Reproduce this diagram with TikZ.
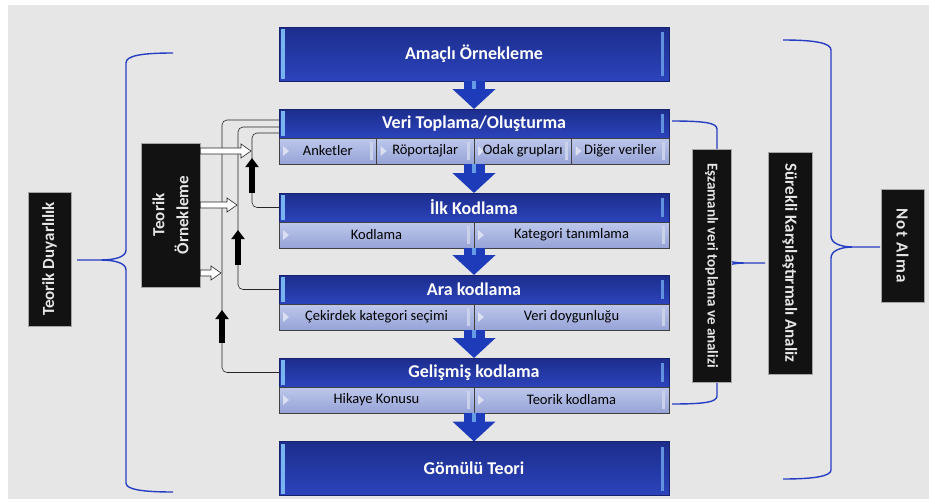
\documentclass[tikz,border=0pt]{standalone}
\usepackage{fontspec}
\setmainfont{Carlito}
\newfontfamily\spacedfont[LetterSpace=8]{Carlito}
\usetikzlibrary{arrows.meta, positioning, calc, shapes}

\definecolor{headblue}{RGB}{44,68,188}
\definecolor{headtop}{RGB}{28,45,140}
\definecolor{headdark}{RGB}{22,34,110}
\definecolor{edgeblue}{RGB}{120,180,240}
\definecolor{arrowblue}{RGB}{30,60,185}
\definecolor{cellblue}{RGB}{150,163,214}
\definecolor{celllight}{RGB}{190,200,236}
\definecolor{bracecol}{RGB}{38,62,196}
\definecolor{panelgray}{RGB}{230,230,230}
\definecolor{labelblack}{RGB}{18,18,18}

\newcommand\openarrow[2]{%
  \draw[draw=black!85, semithick, fill=white] let \p1=#1, \p2=#2 in
    (\x1,\y1+3pt) -- (\x2-10pt,\y1+3pt) -- (\x2-10pt,\y1+7pt) -- (\x2,\y1)
    -- (\x2-10pt,\y1-7pt) -- (\x2-10pt,\y1-3pt) -- (\x1,\y1-3pt) -- cycle;}

\begin{document}
\begin{tikzpicture}[
  x=1pt, y=-1pt,
  stagehead/.style={draw=headdark, top color=headtop, bottom color=headblue,
    text=white, minimum width=390pt, minimum height=29pt, inner sep=0pt, outer sep=0pt,
    font=\bfseries\fontsize{18}{20}\selectfont,
    path picture={
      \fill[edgeblue] ([xshift=2pt,yshift=-2pt]path picture bounding box.north west)
        rectangle ([xshift=6pt,yshift=2pt]path picture bounding box.south west);
      \fill[edgeblue!70!headblue] ([xshift=-8pt,yshift=-5pt]path picture bounding box.north east)
        rectangle ([xshift=-5pt,yshift=5pt]path picture bounding box.south east);}},
  stagebig/.style={stagehead, minimum height=54pt},
  cell/.style={draw=black!75, top color=celllight, bottom color=cellblue,
    minimum height=26pt, inner sep=0pt, outer sep=0pt, text=black,
    font=\fontsize{14.5}{16}\selectfont,
    path picture={
      \fill[white!65!cellblue] ([xshift=4pt,yshift=5pt]path picture bounding box.west)
        -- ([xshift=10pt]path picture bounding box.west)
        -- ([xshift=4pt,yshift=-5pt]path picture bounding box.west) -- cycle;
      \fill[white!50!cellblue] ([xshift=-7pt,yshift=-4pt]path picture bounding box.north east)
        rectangle ([xshift=-4pt,yshift=4pt]path picture bounding box.south east);}},
  darkbox/.style={draw=gray!70, fill=labelblack, text=gray!20, inner sep=0pt,
    align=center, font=\bfseries\fontsize{17}{20}\selectfont},
  flowarrow/.style={line width=21pt, draw=arrowblue, -{Triangle[width=42pt, length=20pt]},
    postaction={draw=edgeblue!80!arrowblue, line width=4pt, -, shorten >=20pt}},
  fbline/.style={draw=black!85, semithick, rounded corners=5pt},
  fbmark/.style={draw=black, line width=6pt, -{Triangle[width=13pt, length=9pt]}},
  brace/.style={draw=bracecol, line width=1.4pt}
]

  % --- Panel ---
  \useasboundingbox (0,0) rectangle (929,501);
  \fill[white] (0,0) rectangle (929,501);
  \fill[panelgray] (8,5) rectangle (929,499);

  % --- Braces ---
  \draw[brace] (173,53) .. controls (140,53) and (126,56) .. (126,63) -- (126,250)
    .. controls (126,257) and (115,260) .. (100,260) -- (77,260) -- (100,260)
    .. controls (115,260) and (126,263) .. (126,270) -- (126,483)
    .. controls (126,489) and (140,492) .. (173,492);
  \draw[brace] (672,121) .. controls (705,121) and (717,123) .. (717,129) -- (717,252)
    .. controls (717,259) and (730,263) .. (745,263) -- (765,263) -- (745,263)
    .. controls (730,263) and (717,267) .. (717,274) -- (717,396)
    .. controls (717,402) and (705,404) .. (672,404);
  \draw[brace] (783,40) .. controls (815,40) and (831,43) .. (831,50) -- (831,236)
    .. controls (831,243) and (840,247) .. (853,247) -- (880,247) -- (853,247)
    .. controls (840,247) and (831,251) .. (831,258) -- (831,470)
    .. controls (831,476) and (815,479) .. (783,479);

  % --- Stages ---
  \node[stagebig] (amac) at (474,54) {Amaçlı Örnekleme};

  \node[stagehead] (veri) at (474,123.5) {Veri Toplama/Oluşturma};
  \node[cell, minimum width=97.5pt, below right=0pt and 0pt of veri.south west] (v1) {Anketler};
  \node[cell, minimum width=97.5pt, right=0pt of v1] (v2) {Röportajlar};
  \node[cell, minimum width=97.5pt, right=0pt of v2] (v3) {Odak grupları};
  \node[cell, minimum width=97.5pt, right=0pt of v3] (v4) {Diğer veriler};

  \node[stagehead] (ilk) at (474,207.5) {İlk Kodlama};
  \node[cell, minimum width=195pt, below right=0pt and 0pt of ilk.south west] (i1) {Kodlama};
  \node[cell, minimum width=195pt, right=0pt of i1] (i2) {Kategori tanımlama};

  \node[stagehead] (ara) at (474,289.5) {Ara kodlama};
  \node[cell, minimum width=195pt, below right=0pt and 0pt of ara.south west] (a1) {Çekirdek kategori seçimi};
  \node[cell, minimum width=195pt, right=0pt of a1] (a2) {Veri doygunluğu};

  \node[stagehead] (gel) at (474,372.5) {Gelişmiş kodlama};
  \node[cell, minimum width=195pt, below right=0pt and 0pt of gel.south west] (g1) {Hikaye Konusu};
  \node[cell, minimum width=195pt, right=0pt of g1] (g2) {Teorik kodlama};

  \node[stagebig] (gomulu) at (474,468.5) {Gömülü Teori};

  % --- Side labels ---
  \node[darkbox, rotate=90, minimum width=134pt, minimum height=43pt] (tduy) at (49.5,259) {Teorik Duyarlılık};
  \node[darkbox, rotate=90, minimum width=144pt, minimum height=59pt] (torn) at (170.5,215) {Teorik\\[4pt]Örnekleme};
  \node[darkbox, rotate=-90, minimum width=233pt, minimum height=39pt, font=\bfseries\fontsize{15}{17}\selectfont] (esz) at (711.5,265.5) {Eşzamanlı veri toplama ve analizi};
  \node[darkbox, rotate=-90, minimum width=222pt, minimum height=44pt] (surekli) at (790,263) {Sürekli Karşılaştırmalı Analiz};
  \node[darkbox, rotate=-90, minimum width=113pt, minimum height=43pt] (notalma) at (902.5,245.5) {\spacedfont\bfseries Not Alma};

  % --- Flow ---
  \draw[flowarrow] (amac.south) -- (veri.north);
  \draw[flowarrow] (veri |- v1.south) -- (ilk.north);
  \draw[flowarrow] (ilk |- i1.south) -- (ara.north);
  \draw[flowarrow] (ara |- a1.south) -- (gel.north);
  \draw[flowarrow] (gel |- g1.south) -- (gomulu.north);

  % --- Feedback loops ---
  \draw[fbline] (ilk.west) -- ++(-27,0) |- ([yshift=-9.5pt]veri.west);
  \draw[fbline] (ara.west) -- ++(-41,0) |- ([yshift=-3.5pt]veri.west);
  \draw[fbline] (gel.west) -- ++(-57,0) |- ([yshift=3.5pt]veri.west);

  \coordinate (m3a) at (252,193); \coordinate (m3b) at (252,158);
  \coordinate (m2a) at (238,265); \coordinate (m2b) at (238,230);
  \coordinate (m1a) at (222,343); \coordinate (m1b) at (222,310);
  \draw[fbmark] (m3a) -- (m3b);
  \draw[fbmark] (m2a) -- (m2b);
  \draw[fbmark] (m1a) -- (m1b);

  % torn is turned by 90 degrees: its south side faces right
  \coordinate (h1) at (251,151);
  \coordinate (h2) at (237,205);
  \coordinate (h3) at (221,273);
  \openarrow{([yshift=64pt]torn.south)}{(h1)}
  \openarrow{([yshift=10pt]torn.south)}{(h2)}
  \openarrow{([yshift=-58pt]torn.south)}{(h3)}

\end{tikzpicture}
\end{document}
